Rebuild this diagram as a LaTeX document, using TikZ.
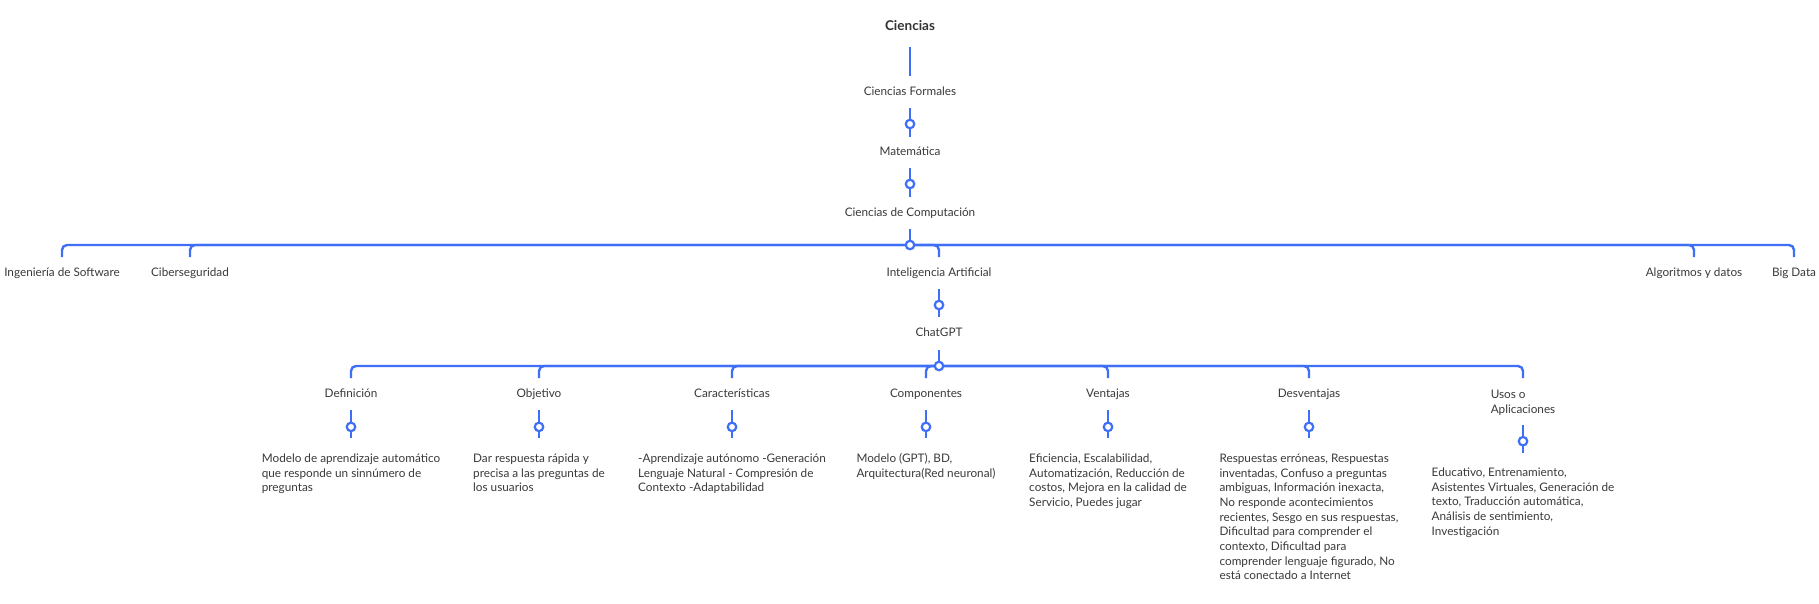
\documentclass[tikz,border=0pt]{standalone}
\usepackage{fontspec}
\setmainfont{Lato}
\definecolor{lb}{HTML}{3F6FF6}
\definecolor{tx}{HTML}{3A3A3A}
\begin{document}
\begin{tikzpicture}[x=1pt,y=-1pt,
  lab/.style={inner sep=0pt, outer sep=0pt, text height=8.5pt, text depth=2.6pt, text=tx, font=\fontsize{11.75}{14.7}\selectfont},
  lab2/.style={inner sep=0pt, outer sep=0pt, align=left, text=tx, font=\fontsize{11.75}{15}\selectfont},
  titlestyle/.style={inner sep=0pt, outer sep=0pt, text=tx!90!black, font=\fontsize{13.5}{16}\selectfont\bfseries},
  body/.style={inner sep=0pt, outer sep=0pt, align=left, anchor=north, text=tx, font=\fontsize{11.75}{14.7}\selectfont},
  conn/.style={draw=lb, line width=2.4pt},
  bar/.style={conn, rounded corners=5pt},
  jn/.style={circle, draw=lb, fill=white, line width=2.2pt, minimum size=8.5pt, inner sep=0pt}]
\useasboundingbox (0,0) rectangle (1819,603);
\fill[white] (0,0) rectangle (1819,603);

% nodes
\node[titlestyle] (cien) at (910,26) {Ciencias};
\node[lab] (cf) at (910,93) {Ciencias Formales};
\node[lab] (mat) at (910,153) {Matemática};
\node[lab] (cc) at (910,214) {Ciencias de Computación};
\coordinate (b2) at (910,245);
\node[lab] (isw) at (62,274) {Ingeniería de Software};
\node[lab] (cib) at (190,274) {Ciberseguridad};
\node[lab] (ia) at (939,274) {Inteligencia Artificial};
\node[lab] (alg) at (1694,274) {Algoritmos y datos};
\node[lab] (bd) at (1794,274) {Big Data};
\node[lab] (gpt) at (939,334) {ChatGPT};
\coordinate (b3) at (939,366);

\node[lab] (def) at (351,395) {Definición};
\node[lab] (obj) at (539,395) {Objetivo};
\node[lab] (car) at (732,395) {Características};
\node[lab] (cmp) at (926,395) {Componentes};
\node[lab] (ven) at (1108,395) {Ventajas};
\node[lab] (des) at (1309,395) {Desventajas};
\node[lab2] (uso) at (1523,402.5) {Usos o\\Aplicaciones};

\node[body] (bdef) at (351,453) {\rule{0pt}{9.3pt}Modelo de aprendizaje automático\\que responde un sinnúmero de\\preguntas};
\node[body] (bobj) at (539,453) {\rule{0pt}{9.3pt}Dar respuesta rápida y\\precisa a las preguntas de\\los usuarios};
\node[body] (bcar) at (732,453) {\rule{0pt}{9.3pt}-Aprendizaje autónomo -Generación\\Lenguaje Natural - Compresión de\\Contexto -Adaptabilidad};
\node[body] (bcmp) at (926,453) {\rule{0pt}{9.3pt}Modelo (GPT), BD,\\Arquitectura(Red neuronal)};
\node[body] (bven) at (1108,453) {\rule{0pt}{9.3pt}Eficiencia, Escalabilidad,\\Automatización, Reducción de\\costos, Mejora en la calidad de\\Servicio, Puedes jugar};
\node[body] (bdes) at (1309,453) {\rule{0pt}{9.3pt}Respuestas erróneas, Respuestas\\inventadas, Confuso a preguntas\\ambiguas, Información inexacta,\\No responde acontecimientos\\recientes, Sesgo en sus respuestas,\\Dificultad para comprender el\\contexto, Dificultad para\\comprender lenguaje figurado, No\\está conectado a Internet};
\node[body] (buso) at (1523,467) {\rule{0pt}{9.3pt}Educativo, Entrenamiento,\\Asistentes Virtuales, Generación de\\texto, Traducción automática,\\Análisis de sentimiento,\\Investigación};

% top chain
\draw[conn, shorten <=21pt, shorten >=17pt] (cien.center) -- (cf.center);
\draw[conn, shorten <=15pt, shorten >=16pt] (cf.center) -- (mat.center) node[jn, pos=0.517] (j1) {};
\draw[conn, shorten <=15pt, shorten >=17pt] (mat.center) -- (cc.center) node[jn, pos=0.508] (j2) {};
\draw[conn, shorten <=15pt] (cc.center) -- (b2);

% level 2 bar
\draw[bar, shorten <=17pt] (isw.center) |- (b2);
\draw[bar, shorten <=17pt] (cib.center) |- (b2);
\draw[bar, shorten <=17pt] (ia.center) |- (b2);
\draw[bar, shorten <=17pt] (alg.center) |- (b2);
\draw[bar, shorten <=17pt] (bd.center) |- (b2);
\node[jn] (j3) at (b2) {};

\draw[conn, shorten <=15pt, shorten >=17pt] (ia.center) -- (gpt.center) node[jn, pos=0.517] (j4) {};
\draw[conn, shorten <=16pt] (gpt.center) -- (b3);

% level 3 bar
\draw[bar, shorten <=17pt] (def.center) |- (b3);
\draw[bar, shorten <=17pt] (obj.center) |- (b3);
\draw[bar, shorten <=17pt] (car.center) |- (b3);
\draw[bar, shorten <=17pt] (cmp.center) |- (b3);
\draw[bar, shorten <=17pt] (ven.center) |- (b3);
\draw[bar, shorten <=17pt] (des.center) |- (b3);
\draw[bar, shorten <=24.5pt] (uso.center) |- (b3);
\node[jn] (j5) at (b3) {};

% leaves
\draw[conn, shorten <=15pt, shorten >=15pt] (def.center) -- (bdef.north) node[jn, pos=0.55] (k1) {};
\draw[conn, shorten <=15pt, shorten >=15pt] (obj.center) -- (bobj.north) node[jn, pos=0.55] (k2) {};
\draw[conn, shorten <=15pt, shorten >=15pt] (car.center) -- (bcar.north) node[jn, pos=0.55] (k3) {};
\draw[conn, shorten <=15pt, shorten >=15pt] (cmp.center) -- (bcmp.north) node[jn, pos=0.55] (k4) {};
\draw[conn, shorten <=15pt, shorten >=15pt] (ven.center) -- (bven.north) node[jn, pos=0.55] (k5) {};
\draw[conn, shorten <=15pt, shorten >=15pt] (des.center) -- (bdes.north) node[jn, pos=0.55] (k6) {};
\draw[conn, shorten <=22.5pt, shorten >=14pt] (uso.center) -- (buso.north) node[jn, pos=0.6] (k7) {};
\end{tikzpicture}
\end{document}
